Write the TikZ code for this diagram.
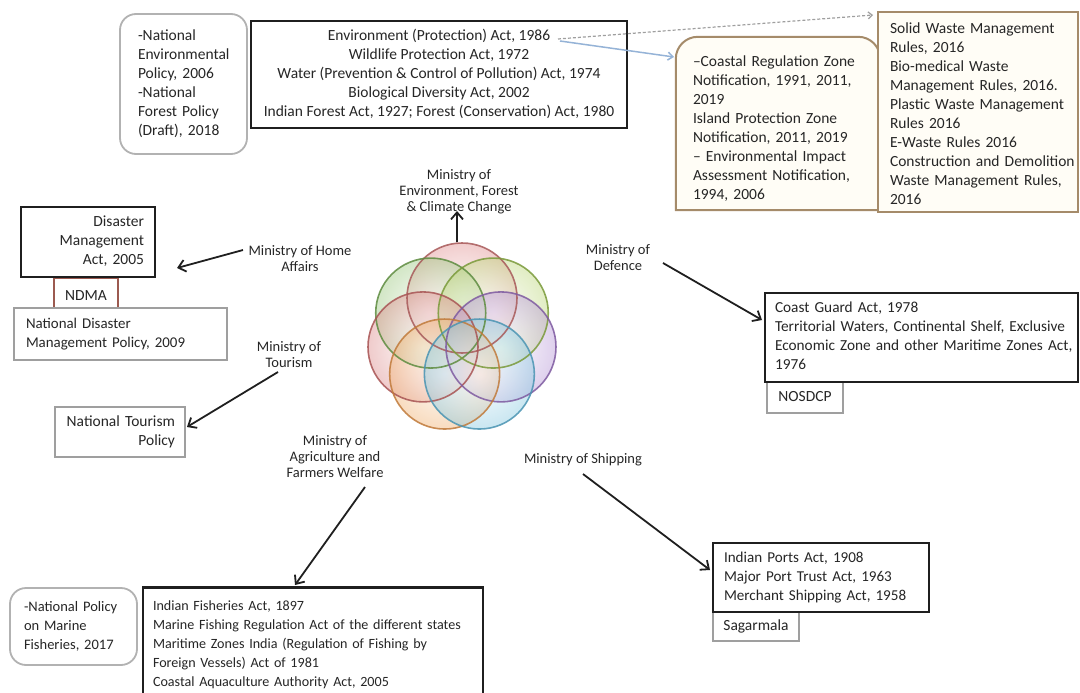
\documentclass[tikz,border=0pt]{standalone}
\usepackage{fontspec}
\setmainfont{Carlito}
\usetikzlibrary{arrows.meta,backgrounds}
\newcommand{\txtL}[1]{\begin{tabular}{@{}l@{}}#1\end{tabular}}
\newcommand{\txtC}[1]{\begin{tabular}{@{}c@{}}#1\end{tabular}}
\newcommand{\txtR}[1]{\begin{tabular}{@{}r@{}}#1\end{tabular}}
\definecolor{txt}{HTML}{262626}
\definecolor{tanline}{HTML}{A58B6A}
\definecolor{cream}{HTML}{FFFDF6}
\definecolor{ndmared}{HTML}{9C5A50}
\definecolor{bluearr}{HTML}{95B3D7}
\definecolor{fA}{HTML}{E09090}\definecolor{eA}{HTML}{A85A5A}
\definecolor{fB}{HTML}{BCD67A}\definecolor{eB}{HTML}{7A9A3A}
\definecolor{fC}{HTML}{B696D6}\definecolor{eC}{HTML}{7E5AA0}
\definecolor{fD}{HTML}{88C8E0}\definecolor{eD}{HTML}{4A94B2}
\definecolor{fE}{HTML}{F0B070}\definecolor{eE}{HTML}{C07A3A}
\definecolor{fF}{HTML}{DC8C8C}\definecolor{eF}{HTML}{A85454}
\definecolor{fG}{HTML}{9CC880}\definecolor{eG}{HTML}{5E8C40}
\begin{document}
\begin{tikzpicture}[x=1pt,y=-1pt,
  every node/.style={text=txt},
  bodyfont/.style={font=\fontsize{15.5}{19}\selectfont},
  labfont/.style={font=\fontsize{14.5}{16}\selectfont},
  blackbox/.style={draw=black!88, line width=2.2pt, fill=white, bodyfont, inner ysep=0pt},
  graybox/.style={draw=gray!75, line width=1.4pt, fill=white, bodyfont, inner ysep=0pt},
  roundbox/.style={draw=gray!60, line width=1.8pt, fill=white, rounded corners=16pt, bodyfont, inner ysep=0pt},
  tanbox/.style={draw=tanline, line width=2pt, fill=cream, bodyfont, inner ysep=0pt},
  lab/.style={labfont, inner sep=0pt},
  arr/.style={draw=black!88, line width=1.8pt, -{Straight Barb[length=7pt,width=12pt]}},
  dasharr/.style={draw=gray!75, line width=1.2pt, dash pattern=on 3pt off 2pt, -{Straight Barb[length=4pt,width=7pt]}},
  bluearrow/.style={draw=bluearr, line width=1.5pt, -{Straight Barb[length=5pt,width=8pt]}},
]
\useasboundingbox (0,0) rectangle (1080,693);
\clip (0,0) rectangle (1080,693);

% ---- central flower of circles: fills first, then all rims
\foreach \a/\fc in {90/fA, 141.43/fG, 38.57/fB, 192.86/fF, -12.86/fC, 244.29/fE, -64.29/fD}{
  \shade[inner color=white, outer color=\fc, fill opacity=0.45]
    ([shift={(\a:40pt)}]462,338) circle[radius=55pt];
}
\foreach \a/\ec in {90/eA, 141.43/eG, 38.57/eB, 192.86/eF, -12.86/eC, 244.29/eE, -64.29/eD}{
  \draw[draw=\ec, line width=1.6pt, draw opacity=0.85]
    ([shift={(\a:40pt)}]462,338) circle[radius=55pt];
}

% ---- top area
\node[roundbox, minimum width=127pt, minimum height=140pt, inner xsep=18pt, text width=91pt, align=left] (natenv) at (183.5,84)
  {\txtL{-National\\Environmental\\Policy, 2006\\-National\\Forest Policy\\(Draft), 2018}};
\node[blackbox, minimum width=376pt, minimum height=107pt] (envacts) at (439,74.5)
  {\txtC{Environment (Protection) Act, 1986\\Wildlife Protection Act, 1972\\Water (Prevention \& Control of Pollution) Act, 1974\\Biological Diversity Act, 2002\\Indian Forest Act, 1927; Forest (Conservation) Act, 1980}};

\node[bodyfont, inner ysep=0pt, minimum width=204pt, minimum height=173pt, inner xsep=17pt, text width=170pt, align=left] (crz) at (778,123.5)
  {\txtL{\rule{0pt}{25.3pt}–Coastal Regulation Zone\\Notification, 1991, 2011,\\2019\\Island Protection Zone\\Notification, 2011, 2019\\– Environmental Impact\\Assessment Notification,\\1994, 2006}};
\begin{scope}[on background layer]
  \filldraw[draw=tanline, line width=2pt, fill=cream] (crz.south west) -- ([yshift=-22pt]crz.north west)
    arc[start angle=180, end angle=90, radius=22pt] -- ([xshift=-22pt]crz.north east)
    arc[start angle=90, end angle=0, radius=22pt] -- (crz.south east) -- cycle;
\end{scope}
\node[tanbox, minimum width=200pt, minimum height=200pt, inner xsep=12pt, text width=176pt, align=left] (swm) at (978,112)
  {\txtL{\rule{0pt}{19.3pt}Solid Waste Management\\Rules, 2016\\Bio-medical Waste\\Management Rules, 2016.\\Plastic Waste Management\\Rules 2016\\E-Waste Rules 2016\\Construction and Demolition\\Waste Management Rules,\\2016}};

\coordinate (dashA) at (558,39);
\coordinate (dashB) at (873,15);
\coordinate (blueA) at (560,41);
\coordinate (blueB) at (674,57);
\draw[dasharr] (dashA) -- (dashB);
\draw[bluearrow] (blueA) -- (blueB);

% ---- left side
\node[graybox, draw=ndmared, line width=1.2pt, minimum width=64pt, minimum height=30pt] (ndma) at (86,293) {\txtC{\rule{0pt}{21.3pt}NDMA}};
\node[graybox, font=\fontsize{14.9}{19}\selectfont, minimum width=213pt, minimum height=52pt, inner xsep=12pt, text width=189pt, align=left] (ndmp) at (120.5,334)
  {\txtL{National Disaster\\Management Policy, 2009}};
\node[blackbox, minimum width=134pt, minimum height=70pt, inner xsep=11pt, text width=112pt, align=right] (dma) at (88,242)
  {\txtR{Disaster\\Management\\Act, 2005}};
\node[graybox, minimum width=130pt, minimum height=50pt, inner xsep=10pt, text width=110pt, align=right] (ntp) at (120,432)
  {\txtR{National Tourism\\Policy}};

% ---- bottom left
\node[roundbox, font=\fontsize{14.5}{19}\selectfont, minimum width=127pt, minimum height=77pt, inner xsep=14pt, text width=99pt, align=left] (npmf) at (73.5,626.5)
  {\txtL{-National Policy\\on Marine\\Fisheries, 2017}};
\node[blackbox, font=\fontsize{14.1}{19}\selectfont, minimum width=340pt, minimum height=115pt, inner xsep=10pt, text width=320pt, align=left] (fish) at (313,645)
  {\txtL{Indian Fisheries Act, 1897\\Marine Fishing Regulation Act of the different states\\Maritime Zones India (Regulation of Fishing by\\Foreign Vessels) Act of 1981\\Coastal Aquaculture Authority Act, 2005}};

% ---- right side
\node[graybox, minimum width=76pt, minimum height=31pt] (nosdcp) at (805,397.5) {\txtC{NOSDCP}};
\node[blackbox, font=\fontsize{15.3}{19}\selectfont, minimum width=313pt, minimum height=89pt, inner xsep=10pt, text width=293pt, align=left] (cg) at (921.5,337.5)
  {\txtL{Coast Guard Act, 1978\\Territorial Waters, Continental Shelf, Exclusive\\Economic Zone and other Maritime Zones Act,\\1976}};
\node[graybox, minimum width=86pt, minimum height=29pt] (sagar) at (756,626.5) {\txtC{Sagarmala}};
\node[blackbox, font=\fontsize{15.1}{19}\selectfont, minimum width=216pt, minimum height=69pt, inner xsep=11pt, text width=194pt, align=left] (ports) at (821,577.5)
  {\txtL{Indian Ports Act, 1908\\Major Port Trust Act, 1963\\Merchant Shipping Act, 1958}};

% ---- ministry labels
\node[lab] (menv) at (459,192.5) {\txtC{Ministry of\\Environment, Forest\\\& Climate Change}};
\node[lab] (mhome) at (300,260) {\txtC{Ministry of Home\\Affairs}};
\node[lab] (mtour) at (289,356) {\txtC{Ministry of\\Tourism}};
\node[lab] (magri) at (335,458) {\txtC{Ministry of\\Agriculture and\\Farmers Welfare}};
\node[lab] (mdef) at (618,259.5) {\txtC{Ministry of\\Defence}};
\node[lab] (mship) at (583,460) {\txtC{Ministry of Shipping}};

% ---- arrows
\coordinate (envA) at (457,242);   \coordinate (envB) at (457,211);
\coordinate (homeA) at (243,250);  \coordinate (homeB) at (177,268);
\coordinate (tourA) at (278,372);  \coordinate (tourB) at (187,427);
\coordinate (agriA) at (365,487);  \coordinate (agriB) at (295,585);
\coordinate (defA) at (663,263);   \coordinate (defB) at (762,320);
\coordinate (shipA) at (583,474);  \coordinate (shipB) at (710,570);
\draw[arr] (envA) -- (envB);
\draw[arr] (homeA) -- (homeB);
\draw[arr] (tourA) -- (tourB);
\draw[arr] (agriA) -- (agriB);
\draw[arr] (defA) -- (defB);
\draw[arr] (shipA) -- (shipB);
\end{tikzpicture}
\end{document}
